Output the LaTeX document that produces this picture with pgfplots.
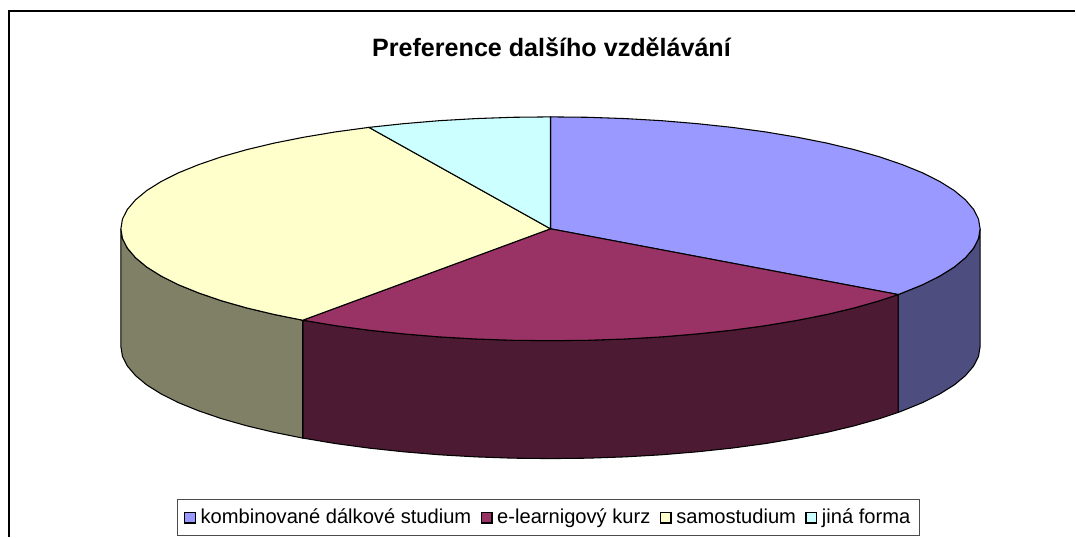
\documentclass[border=0pt]{standalone}
\usepackage{pgfplots}
\pgfplotsset{compat=1.18}
\usepackage{fontspec}
\setmainfont{Liberation Sans}
\definecolor{cblue}{HTML}{9999FF}
\definecolor{cblued}{HTML}{4D4D80}
\definecolor{cred}{HTML}{993366}
\definecolor{credd}{HTML}{4D1A33}
\definecolor{cyel}{HTML}{FFFFCC}
\definecolor{cyeld}{HTML}{808066}
\definecolor{ccya}{HTML}{CCFFFF}
\begin{document}
\begin{tikzpicture}
\begin{axis}[
  scale only axis, width=807pt, height=402.75pt,
  xmin=0, xmax=1076, ymin=0, ymax=537, y dir=reverse,
  axis lines=none, clip=false,
  legend columns=-1,
  legend style={at={(axis cs:549,518)}, anchor=center, draw=black!70, line width=0.7pt,
    font=\fontsize{15.1pt}{17pt}\selectfont, inner xsep=5pt, inner ysep=5pt,
    /tikz/every even column/.append style={column sep=5pt}},
  legend image code/.code={\draw[#1, draw=black, line width=1pt] (0pt,-4pt) rectangle (8pt,4pt);
     \path[draw=none,fill=none] (0pt,0pt) -- (10pt,0pt);},
]
\path (axis cs:0,0) rectangle (axis cs:1076,537);
% chart frame
\addplot[black, line width=1.5pt, forget plot] coordinates {(9,537) (9,11) (1076,11)};
% side walls
\addplot[fill=cblued, draw=black, line width=0.8pt, forget plot] coordinates {
(899,294.8)(903.2,293.2)(923.4,285)(940.7,276.3)(955.1,267.3)(966.3,258)(974.5,248.4)(979.4,238.8)(981,229)
(981,347)(979.4,356.8)(974.5,366.4)(966.3,376)(955.1,385.3)(940.7,394.3)(923.4,403)(903.2,411.2)(899,412.8)} -- cycle;
\addplot[fill=credd, draw=black, line width=0.8pt, forget plot] coordinates {
(899,294.8)(880.4,301)(855.1,308.2)(827.4,314.8)(797.6,320.7)(766,326)(732.7,330.5)(698.1,334.2)(662.3,337.2)(625.7,339.3)(588.5,340.6)(551,341)
(513.5,340.6)(476.3,339.3)(439.7,337.2)(403.9,334.2)(369.3,330.5)(336,326)(304.4,320.7)(303,320.5)
(303,438.5)(304.4,438.7)(336,444)(369.3,448.5)(403.9,452.2)(439.7,455.2)(476.3,457.3)(513.5,458.6)(551,459)
(588.5,458.6)(625.7,457.3)(662.3,455.2)(698.1,452.2)(732.7,448.5)(766,444)(797.6,438.7)(827.4,432.8)(855.1,426.2)(880.4,419)(899,412.8)} -- cycle;
\addplot[fill=cyeld, draw=black, line width=0.8pt, forget plot] coordinates {
(303,320.5)(274.6,314.8)(246.9,308.2)(221.6,301)(198.8,293.2)(178.6,285)(161.3,276.3)(146.9,267.3)(135.7,258)(127.5,248.4)(122.6,238.8)(121,229)
(121,347)(122.6,356.8)(127.5,366.4)(135.7,376)(146.9,385.3)(161.3,394.3)(178.6,403)(198.8,411.2)(221.6,419)(246.9,426.2)(274.6,432.8)(303,438.5)} -- cycle;
% top wedges
\addplot[fill=cblue, draw=black, line width=0.8pt] coordinates {
(551,229)(551,117)(588.5,117.4)(625.7,118.7)(662.3,120.8)(698.1,123.8)(732.7,127.5)(766,132)(797.6,137.3)(827.4,143.2)(855.1,149.8)(880.4,157)(903.2,164.8)(923.4,173)(940.7,181.7)(955.1,190.7)(966.3,200)(974.5,209.6)(979.4,219.2)(981,229)
(979.4,238.8)(974.5,248.4)(966.3,258)(955.1,267.3)(940.7,276.3)(923.4,285)(903.2,293.2)(899,294.8)} -- cycle;
\addlegendentry{kombinované dálkové studium}
\addplot[fill=cred, draw=black, line width=0.8pt] coordinates {
(551,229)(899,294.8)(880.4,301)(855.1,308.2)(827.4,314.8)(797.6,320.7)(766,326)(732.7,330.5)(698.1,334.2)(662.3,337.2)(625.7,339.3)(588.5,340.6)(551,341)
(513.5,340.6)(476.3,339.3)(439.7,337.2)(403.9,334.2)(369.3,330.5)(336,326)(304.4,320.7)(303,320.5)} -- cycle;
\addlegendentry{e-learnigový kurz}
\addplot[fill=cyel, draw=black, line width=0.8pt] coordinates {
(551,229)(303,320.5)(274.6,314.8)(246.9,308.2)(221.6,301)(198.8,293.2)(178.6,285)(161.3,276.3)(146.9,267.3)(135.7,258)(127.5,248.4)(122.6,238.8)(121,229)
(122.6,219.2)(127.5,209.6)(135.7,200)(146.9,190.7)(161.3,181.7)(178.6,173)(198.8,164.8)(221.6,157)(246.9,149.8)(274.6,143.2)(304.4,137.3)(336,132)(369.3,127.5)} -- cycle;
\addlegendentry{samostudium}
\addplot[fill=ccya, draw=black, line width=0.8pt] coordinates {
(551,229)(369.3,127.5)(403.9,123.8)(439.7,120.8)(476.3,118.7)(513.5,117.4)(551,117)} -- cycle;
\addlegendentry{jiná forma}
\node[font=\fontsize{18.85pt}{22pt}\selectfont\bfseries, anchor=center] at (axis cs:552,47) {Preference dalšího vzdělávání};
\end{axis}
\end{tikzpicture}
\end{document}
